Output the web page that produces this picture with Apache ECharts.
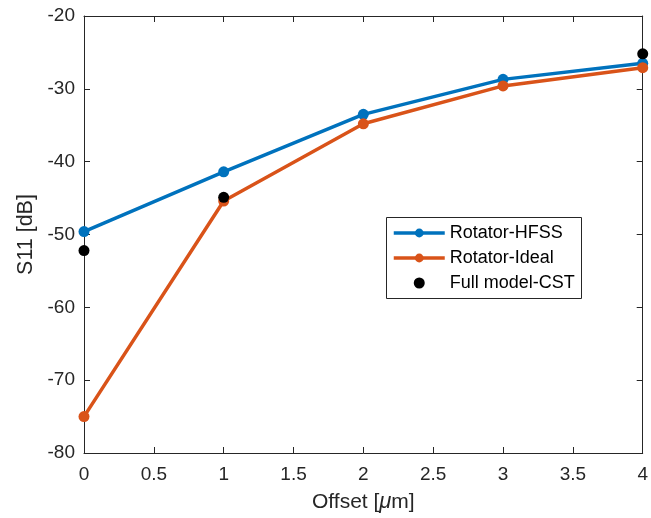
<!DOCTYPE html>
<html><head><meta charset="utf-8">
<script src="https://cdn.jsdelivr.net/npm/echarts@6/dist/echarts.min.js"></script>
<style>html,body{margin:0;padding:0;background:#fff}#c{width:651px;height:518px}</style>
</head><body><div id="c"></div>
<script>
const offsets = [0, 1, 2, 3, 4];
const hfss = [-49.6, -41.4, -33.5, -28.7, -26.5];
const ideal = [-75.0, -45.4, -34.8, -29.6, -27.1];
const cstX = [0, 1, 4];
const cst = [-52.2, -44.9, -25.2];
const seriesNames = ['Rotator-HFSS', 'Rotator-Ideal', 'Full model-CST'];

const chart = echarts.init(document.getElementById('c'));
const font = 'Liberation Sans, Arial, sans-serif';
const axColor = '#262626';
const axisCommon = {
  axisLine: {show: true, onZero: false, lineStyle: {color: axColor, width: 1}},
  axisTick: {show: true, inside: true, length: 6, lineStyle: {color: axColor}},
  splitLine: {show: false}
};
chart.setOption({
  animation: false,
  grid: {left: 84, right: 7, top: 16, bottom: 65},
  xAxis: [
    Object.assign({type: 'value', min: 0, max: 4, interval: 0.5, position: 'bottom',
      name: 'Offset [{i|μ}m]', nameLocation: 'middle', nameGap: 38,
      nameTextStyle: {color: axColor, fontSize: 21, fontFamily: font, rich: {i: {fontStyle: 'italic', fontSize: 22, fontFamily: font, color: axColor}}},
      axisLabel: {color: axColor, fontSize: 19, fontFamily: font, margin: 12}}, axisCommon),
    Object.assign({type: 'value', min: 0, max: 4, interval: 0.5, position: 'top',
      axisLabel: {show: false}}, axisCommon)
  ],
  yAxis: [
    Object.assign({type: 'value', min: -80, max: -20, interval: 10, position: 'left',
      name: 'S11 [dB]', nameLocation: 'middle', nameGap: 47, nameRotate: 90,
      nameTextStyle: {color: axColor, fontSize: 21.5, fontFamily: font},
      axisLabel: {color: axColor, fontSize: 19, fontFamily: font, margin: 9}}, axisCommon),
    Object.assign({type: 'value', min: -80, max: -20, interval: 10, position: 'right',
      axisLabel: {show: false}}, axisCommon)
  ],
  graphic: [{type: 'rect', left: 386, top: 217, shape: {width: 195, height: 81},
    style: {fill: '#fff', stroke: '#262626', lineWidth: 1}, z: 50}],
  legend: {
    left: 387, top: 219, orient: 'vertical', itemGap: 7, itemWidth: 51, itemHeight: 11,
    textStyle: {color: '#000', fontSize: 18, fontFamily: font},
    data: [
      {name: seriesNames[0], lineStyle: {width: 3.5}},
      {name: seriesNames[1], lineStyle: {width: 3.5}},
      {name: seriesNames[2], icon: 'circle', itemStyle: {color: '#000', opacity: 1}}
    ],
    z: 60, selectedMode: false
  },
  series: [
    {name: seriesNames[0], type: 'line', data: offsets.map((x, i) => [x, hfss[i]]),
      symbol: 'circle', symbolSize: 11, lineStyle: {color: '#0072BD', width: 3.5},
      itemStyle: {color: '#0072BD'}, z: 3},
    {name: seriesNames[1], type: 'line', data: offsets.map((x, i) => [x, ideal[i]]),
      symbol: 'circle', symbolSize: 11, lineStyle: {color: '#D95319', width: 3.5},
      itemStyle: {color: '#D95319'}, z: 4},
    {name: seriesNames[2], type: 'scatter', data: cstX.map((x, i) => [x, cst[i]]),
      symbol: 'circle', symbolSize: 11, itemStyle: {color: '#000', opacity: 1}, z: 5}
  ]
});
</script></body></html>
